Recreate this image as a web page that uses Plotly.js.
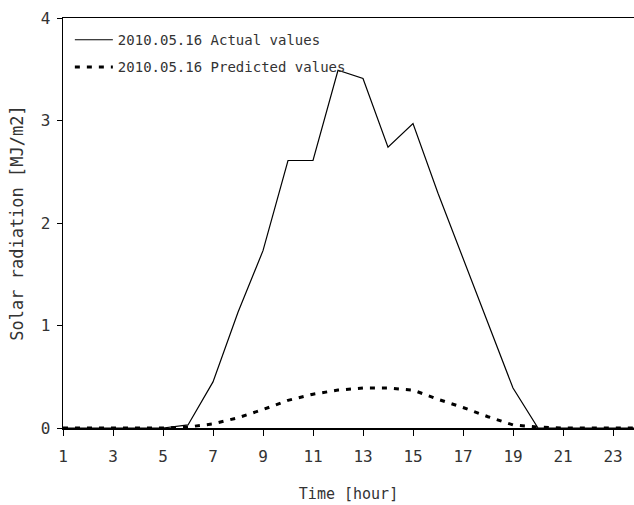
<!DOCTYPE html>
<html>
<head>
<meta charset="utf-8">
<script src="https://cdn.plot.ly/plotly-3.0.1.min.js"></script>
<style>
  html, body { margin: 0; padding: 0; background: #fff; }
  #chart { width: 634px; height: 505px; }
</style>
</head>
<body>
<div id="chart"></div>
<script>
// Hourly solar radiation for 2010.05.16
const hours = [1, 2, 3, 4, 5, 6, 7, 8, 9, 10, 11, 12, 13, 14, 15, 16, 17, 18, 19, 20, 21, 22, 23, 24];
const actualValues = [0, 0, 0, 0, 0, 0.03, 0.45, 1.13, 1.73, 2.61, 2.61, 3.49, 3.41, 2.74, 2.97, 2.29, 1.66, 1.03, 0.39, 0, 0, 0, 0, 0];
const predictedValues = [0, 0, 0, 0, 0, 0.01, 0.04, 0.10, 0.18, 0.27, 0.33, 0.37, 0.39, 0.39, 0.37, 0.28, 0.20, 0.11, 0.03, 0.01, 0, 0, 0, 0];
const xTicks = [1, 3, 5, 7, 9, 11, 13, 15, 17, 19, 21, 23];
const yTicks = [0, 1, 2, 3, 4];

const FONT = 'DejaVu Sans Mono, monospace';

const traces = [
  {
    x: hours, y: actualValues, type: 'scatter', mode: 'lines',
    name: '2010.05.16 Actual values', legendgroup: 'a',
    line: { color: '#000', width: 1.2 }
  },
  {
    x: hours, y: predictedValues, type: 'scatter', mode: 'lines',
    name: '2010.05.16 Predicted values', legendgroup: 'p',
    line: { color: '#000', width: 3, dash: '5px,7px' }
  }
];

const layout = {
  width: 634, height: 505,
  margin: { l: 63, r: 0, t: 18, b: 77 },
  paper_bgcolor: '#fff', plot_bgcolor: '#fff',
  font: { family: FONT, color: '#333', size: 14 },
  showlegend: true,
  legend: {
    x: 0.012, y: 0.985, xanchor: 'left', yanchor: 'top',
    bgcolor: 'rgba(0,0,0,0)', borderwidth: 0,
    tracegroupgap: 6, itemwidth: 38,
    font: { family: FONT, size: 14, color: '#333' }
  },
  xaxis: {
    range: [1, 23.84],
    tickvals: xTicks, ticktext: xTicks.map(String),
    ticks: 'outside', ticklen: 6, tickcolor: '#000', tickwidth: 1,
    ticklabelstandoff: 7,
    showline: true, linecolor: '#000', linewidth: 1.5, mirror: true,
    showgrid: false, zeroline: false,
    tickfont: { family: FONT, size: 16, color: '#333' },
    title: { text: 'Time [hour]', standoff: 24, font: { family: FONT, size: 15, color: '#333' } }
  },
  yaxis: {
    range: [0, 4],
    tickvals: yTicks, ticktext: yTicks.map(String),
    ticks: 'outside', ticklen: 5, tickcolor: '#000', tickwidth: 1,
    ticklabelstandoff: 3,
    showline: true, linecolor: '#000', linewidth: 1.5,
    showgrid: false, zeroline: false,
    tickfont: { family: FONT, size: 16, color: '#333' },
    title: { text: 'Solar radiation [MJ/m2]', standoff: 12, font: { family: FONT, size: 17, color: '#333' } }
  }
};

Plotly.newPlot('chart', traces, layout, { displayModeBar: false, staticPlot: true });
</script>
</body>
</html>
